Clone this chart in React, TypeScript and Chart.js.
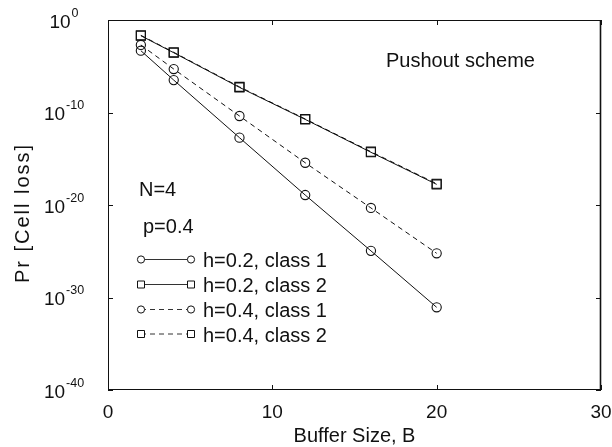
import React, { useEffect, useRef } from "react";
import { Chart, registerables } from "chart.js";

Chart.register(...registerables);

// Buffer sizes B at which the cell-loss probability was evaluated
const bufferSizes = [2, 4, 8, 12, 16, 20];

// Cell-loss probabilities, one list per (h, class) case
const lossH02Class1 = [4.8e-4, 3.2e-7, 1.9e-13, 1.2e-19, 1.1e-25, 8.7e-32];
const lossH02Class2 = [2.0e-2, 2.9e-4, 5.2e-8, 1.8e-11, 5.0e-15, 1.7e-18];
const lossH04Class1 = [2.0e-3, 5.0e-6, 4.2e-11, 3.7e-16, 4.8e-21, 6.0e-26];
const lossH04Class2 = [2.2e-2, 3.2e-4, 5.9e-8, 2.0e-11, 5.8e-15, 2.0e-18];

const seriesLabels = ["h=0.2, class 1", "h=0.2, class 2", "h=0.4, class 1", "h=0.4, class 2"];

const xTicks = [0, 10, 20, 30];
const yTickExponents = [0, -10, -20, -30, -40];

const xTitle = "Buffer Size, B";
const yTitle = "Pr [Cell loss]";
const schemeLabel = "Pushout scheme";
const paramLabels = ["N=4", "p=0.4"];

const FONT = "'Liberation Sans', Arial, Helvetica, sans-serif";
const INK = "#111";

const toPoints = (ys: number[]) => bufferSizes.map((x, i) => ({ x, y: ys[i] }));

const framePlugin = {
  id: "frameAndText",
  beforeDraw(chart: any) {
    const { ctx, width, height } = chart;
    ctx.save();
    ctx.fillStyle = "#fff";
    ctx.fillRect(0, 0, width, height);
    ctx.restore();
  },
  afterDraw(chart: any) {
    const { ctx, chartArea: a } = chart;
    const xs = chart.scales.x;
    const ys = chart.scales.y;
    ctx.save();

    // plot frame
    ctx.strokeStyle = INK;
    ctx.lineWidth = 1;
    ctx.strokeRect(a.left + 0.5, a.top + 0.5, a.right - a.left - 1, a.bottom - a.top - 1);
    ctx.lineWidth = 1.6;
    ctx.beginPath();
    ctx.moveTo(a.right - 0.5, a.top);
    ctx.lineTo(a.right - 0.5, a.bottom);
    ctx.stroke();

    // inward tick marks
    ctx.lineWidth = 1;
    ctx.beginPath();
    xTicks.forEach((v) => {
      const px = Math.round(xs.getPixelForValue(v)) + 0.5;
      ctx.moveTo(px, a.bottom);
      ctx.lineTo(px, a.bottom - 5);
      ctx.moveTo(px, a.top);
      ctx.lineTo(px, a.top + 5);
    });
    yTickExponents.forEach((e) => {
      const py = Math.round(ys.getPixelForValue(Math.pow(10, e))) + 0.5;
      ctx.moveTo(a.left, py);
      ctx.lineTo(a.left + 5, py);
      ctx.moveTo(a.right, py);
      ctx.lineTo(a.right - 5, py);
    });
    ctx.stroke();

    ctx.fillStyle = INK;

    // x tick labels
    ctx.font = `19px ${FONT}`;
    ctx.textAlign = "center";
    ctx.textBaseline = "alphabetic";
    xTicks.forEach((v) => {
      ctx.fillText(String(v), xs.getPixelForValue(v), 418);
    });

    // y tick labels as 10 with a raised exponent
    yTickExponents.forEach((e) => {
      const py = ys.getPixelForValue(Math.pow(10, e));
      const base = "10";
      const exp = String(e);
      ctx.font = `19px ${FONT}`;
      const wb = ctx.measureText(base).width;
      ctx.font = `12.5px ${FONT}`;
      const we = ctx.measureText(exp).width;
      const left = 64 - (wb + we + 1) / 2;
      ctx.textAlign = "left";
      ctx.font = `19px ${FONT}`;
      ctx.fillText(base, left, py + 7.5);
      ctx.font = `12.5px ${FONT}`;
      ctx.fillText(exp, left + wb + 1, py - 3.5);
    });

    // axis titles
    ctx.font = `20px ${FONT}`;
    ctx.textAlign = "center";
    ctx.fillText(xTitle, (a.left + a.right) / 2, 442);
    ctx.save();
    ctx.translate(29, 213);
    ctx.rotate(-Math.PI / 2);
    (ctx as any).letterSpacing = "2px";
    ctx.fillText(yTitle, 0, 0);
    ctx.restore();

    // annotations inside the plot
    ctx.textAlign = "left";
    ctx.fillText(schemeLabel, 386, 66.5);
    ctx.fillText(paramLabels[0], 139, 195.5);
    ctx.fillText(paramLabels[1], 143, 233);

    // legend: line with a marker at each end, then the label
    const rowsY = [259.5, 284.5, 309.5, 334];
    chart.data.datasets.forEach((ds: any, i: number) => {
      const y = rowsY[i];
      const x0 = 141;
      const x1 = 191;
      ctx.save();
      ctx.strokeStyle = "#333";
      ctx.lineWidth = 1;
      ctx.setLineDash(ds.borderDash || []);
      ctx.beginPath();
      ctx.moveTo(x0, y);
      ctx.lineTo(x1, y);
      ctx.stroke();
      ctx.restore();
      [x0, x1].forEach((mx) => {
        ctx.save();
        ctx.fillStyle = "#fff";
        ctx.strokeStyle = INK;
        ctx.lineWidth = 1;
        ctx.beginPath();
        if (ds.pointStyle === "rect") {
          ctx.rect(mx - 3.5, y - 3.5, 7, 7);
        } else {
          ctx.arc(mx, y, 3.6, 0, Math.PI * 2);
        }
        ctx.fill();
        ctx.stroke();
        ctx.restore();
      });
      ctx.font = `20px ${FONT}`;
      ctx.fillStyle = INK;
      ctx.fillText(ds.label, 203, y + 7.5);
    });

    ctx.restore();
  },
};

export default function App() {
  const canvasRef = useRef<HTMLCanvasElement | null>(null);

  useEffect(() => {
    const canvas = canvasRef.current;
    if (!canvas) return;

    const makeSet = (label: string, ys: number[], style: string, dashed: boolean) => ({
      label,
      data: toPoints(ys),
      borderColor: INK,
      borderWidth: 1,
      borderDash: dashed ? [5, 4] : [],
      pointStyle: style,
      pointRadius: style === "rect" ? 6.4 : 4.6,
      pointBackgroundColor: "rgba(255,255,255,0)",
      pointBorderColor: INK,
      pointBorderWidth: 1.1,
      fill: false,
      tension: 0,
    });

    const chart = new Chart(canvas, {
      type: "line",
      data: {
        datasets: [
          makeSet(seriesLabels[0], lossH02Class1, "circle", false),
          makeSet(seriesLabels[1], lossH02Class2, "rect", false),
          makeSet(seriesLabels[2], lossH04Class1, "circle", true),
          makeSet(seriesLabels[3], lossH04Class2, "rect", true),
        ],
      },
      options: {
        animation: false,
        responsive: false,
        devicePixelRatio: 1,
        layout: { padding: { left: 108, right: 11, top: 20, bottom: 57 } },
        plugins: { legend: { display: false }, tooltip: { enabled: false } },
        scales: {
          x: { type: "linear", min: 0, max: 30, display: false },
          y: { type: "logarithmic", min: 1e-40, max: 1, display: false },
        },
      },
      plugins: [framePlugin],
    });

    return () => chart.destroy();
  }, []);

  return (
    <div style={{ position: "absolute", left: 0, top: 0, width: 612, height: 447, background: "#fff" }}>
      <canvas ref={canvasRef} width={612} height={447} style={{ display: "block" }} />
    </div>
  );
}
